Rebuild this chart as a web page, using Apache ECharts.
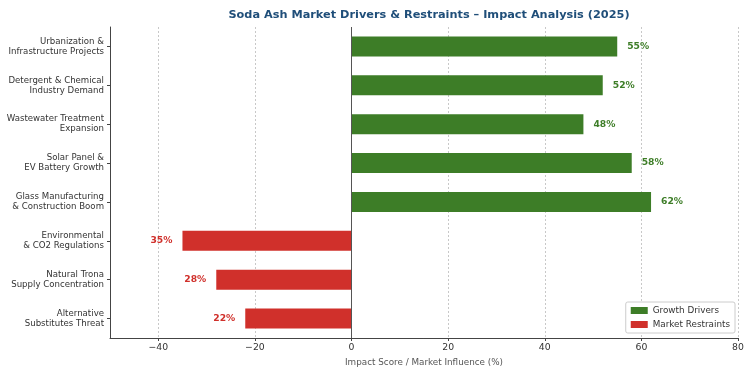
<!DOCTYPE html>
<html><head><meta charset="utf-8">
<script src="https://cdn.jsdelivr.net/npm/echarts@6/dist/echarts.min.js"></script>
<style>html,body{margin:0;padding:0;background:#fff}#c{width:751px;height:374px}</style>
</head><body><div id="c"></div>
<script>
const categories = [
  "Urbanization &\nInfrastructure Projects",
  "Detergent & Chemical\nIndustry Demand",
  "Wastewater Treatment\nExpansion",
  "Solar Panel &\nEV Battery Growth",
  "Glass Manufacturing\n& Construction Boom",
  "Environmental\n& CO2 Regulations",
  "Natural Trona\nSupply Concentration",
  "Alternative\nSubstitutes Threat"
];
const drivers = [55, 52, 48, 58, 62, null, null, null];
const restraints = [null, null, null, null, null, -35, -28, -22];
const xTicks = [-40, -20, 0, 20, 40, 60, 80];

const GREEN = '#3d7d27', RED = '#d0302b';
const F = 'DejaVu Sans';
const chart = echarts.init(document.getElementById('c'), null, {renderer: 'canvas'});
chart.setOption({
  backgroundColor: '#fff',
  animation: false,
  title: {
    text: 'Soda Ash Market Drivers & Restraints \u2013 Impact Analysis (2025)',
    left: 424, top: 5, textAlign: 'center',
    textStyle: {fontFamily: F, fontSize: 11.3, fontWeight: 'bold', color: '#1f4e79'}
  },
  legend: {
    right: 16, bottom: 41, orient: 'vertical', itemWidth: 17, itemHeight: 7, itemGap: 5,
    padding: [4, 5, 4, 5], borderColor: '#ccc', borderWidth: 1, borderRadius: 2,
    backgroundColor: '#fff',
    textStyle: {fontFamily: F, fontSize: 8.8, color: '#333'},
    data: [{name: 'Growth Drivers', icon: 'rect'}, {name: 'Market Restraints', icon: 'rect'}]
  },
  grid: {left: 110, right: 13, top: 27, bottom: 36},
  xAxis: {
    type: 'value', min: -50, max: 80, interval: 10,
    name: 'Impact Score / Market Influence (%)', nameLocation: 'middle', nameGap: 20,
    nameTextStyle: {fontFamily: F, fontSize: 8.8, color: '#555'},
    axisLine: {show: true, onZero: false, lineStyle: {color: '#444', width: 1}},
    axisTick: {show: true, length: 3, lineStyle: {color: '#444'},
      customValues: xTicks},
    axisLabel: {fontFamily: F, fontSize: 9.3, color: '#333', margin: 5,
      customValues: xTicks,
      formatter: v => (v < 0 ? '\u2212' + Math.abs(v) : String(v))},
    splitLine: {show: true, lineStyle: {color: '#c8c8c8', type: [2, 2], width: 1},
      customValues: xTicks}
  },
  yAxis: {
    type: 'category', data: categories, inverse: true,
    axisLine: {show: true, onZero: false, lineStyle: {color: '#444', width: 1}},
    axisTick: {show: true, alignWithLabel: true, length: 3, lineStyle: {color: '#444'}},
    axisLabel: {fontFamily: F, fontSize: 8.6, color: '#333', lineHeight: 10, margin: 6, align: 'right'},
    splitLine: {show: false}
  },
  series: [
    {
      name: 'Growth Drivers', type: 'bar', stack: 'a', data: drivers, barWidth: 20,
      itemStyle: {color: GREEN},
      label: {show: true, position: 'right', distance: 10,
        fontFamily: F, fontSize: 9.2, fontWeight: 'bold', color: GREEN,
        formatter: p => Math.abs(p.value) + '%'},
      markLine: {symbol: 'none', silent: true, label: {show: false},
        lineStyle: {color: '#555', width: 1, type: 'solid'},
        data: [{xAxis: 0}]}
    },
    {
      name: 'Market Restraints', type: 'bar', stack: 'a', data: restraints, barWidth: 20,
      itemStyle: {color: RED},
      label: {show: true, position: 'left', distance: 10,
        fontFamily: F, fontSize: 9.2, fontWeight: 'bold', color: RED,
        formatter: p => Math.abs(p.value) + '%'}
    }
  ]
});
</script></body></html>
